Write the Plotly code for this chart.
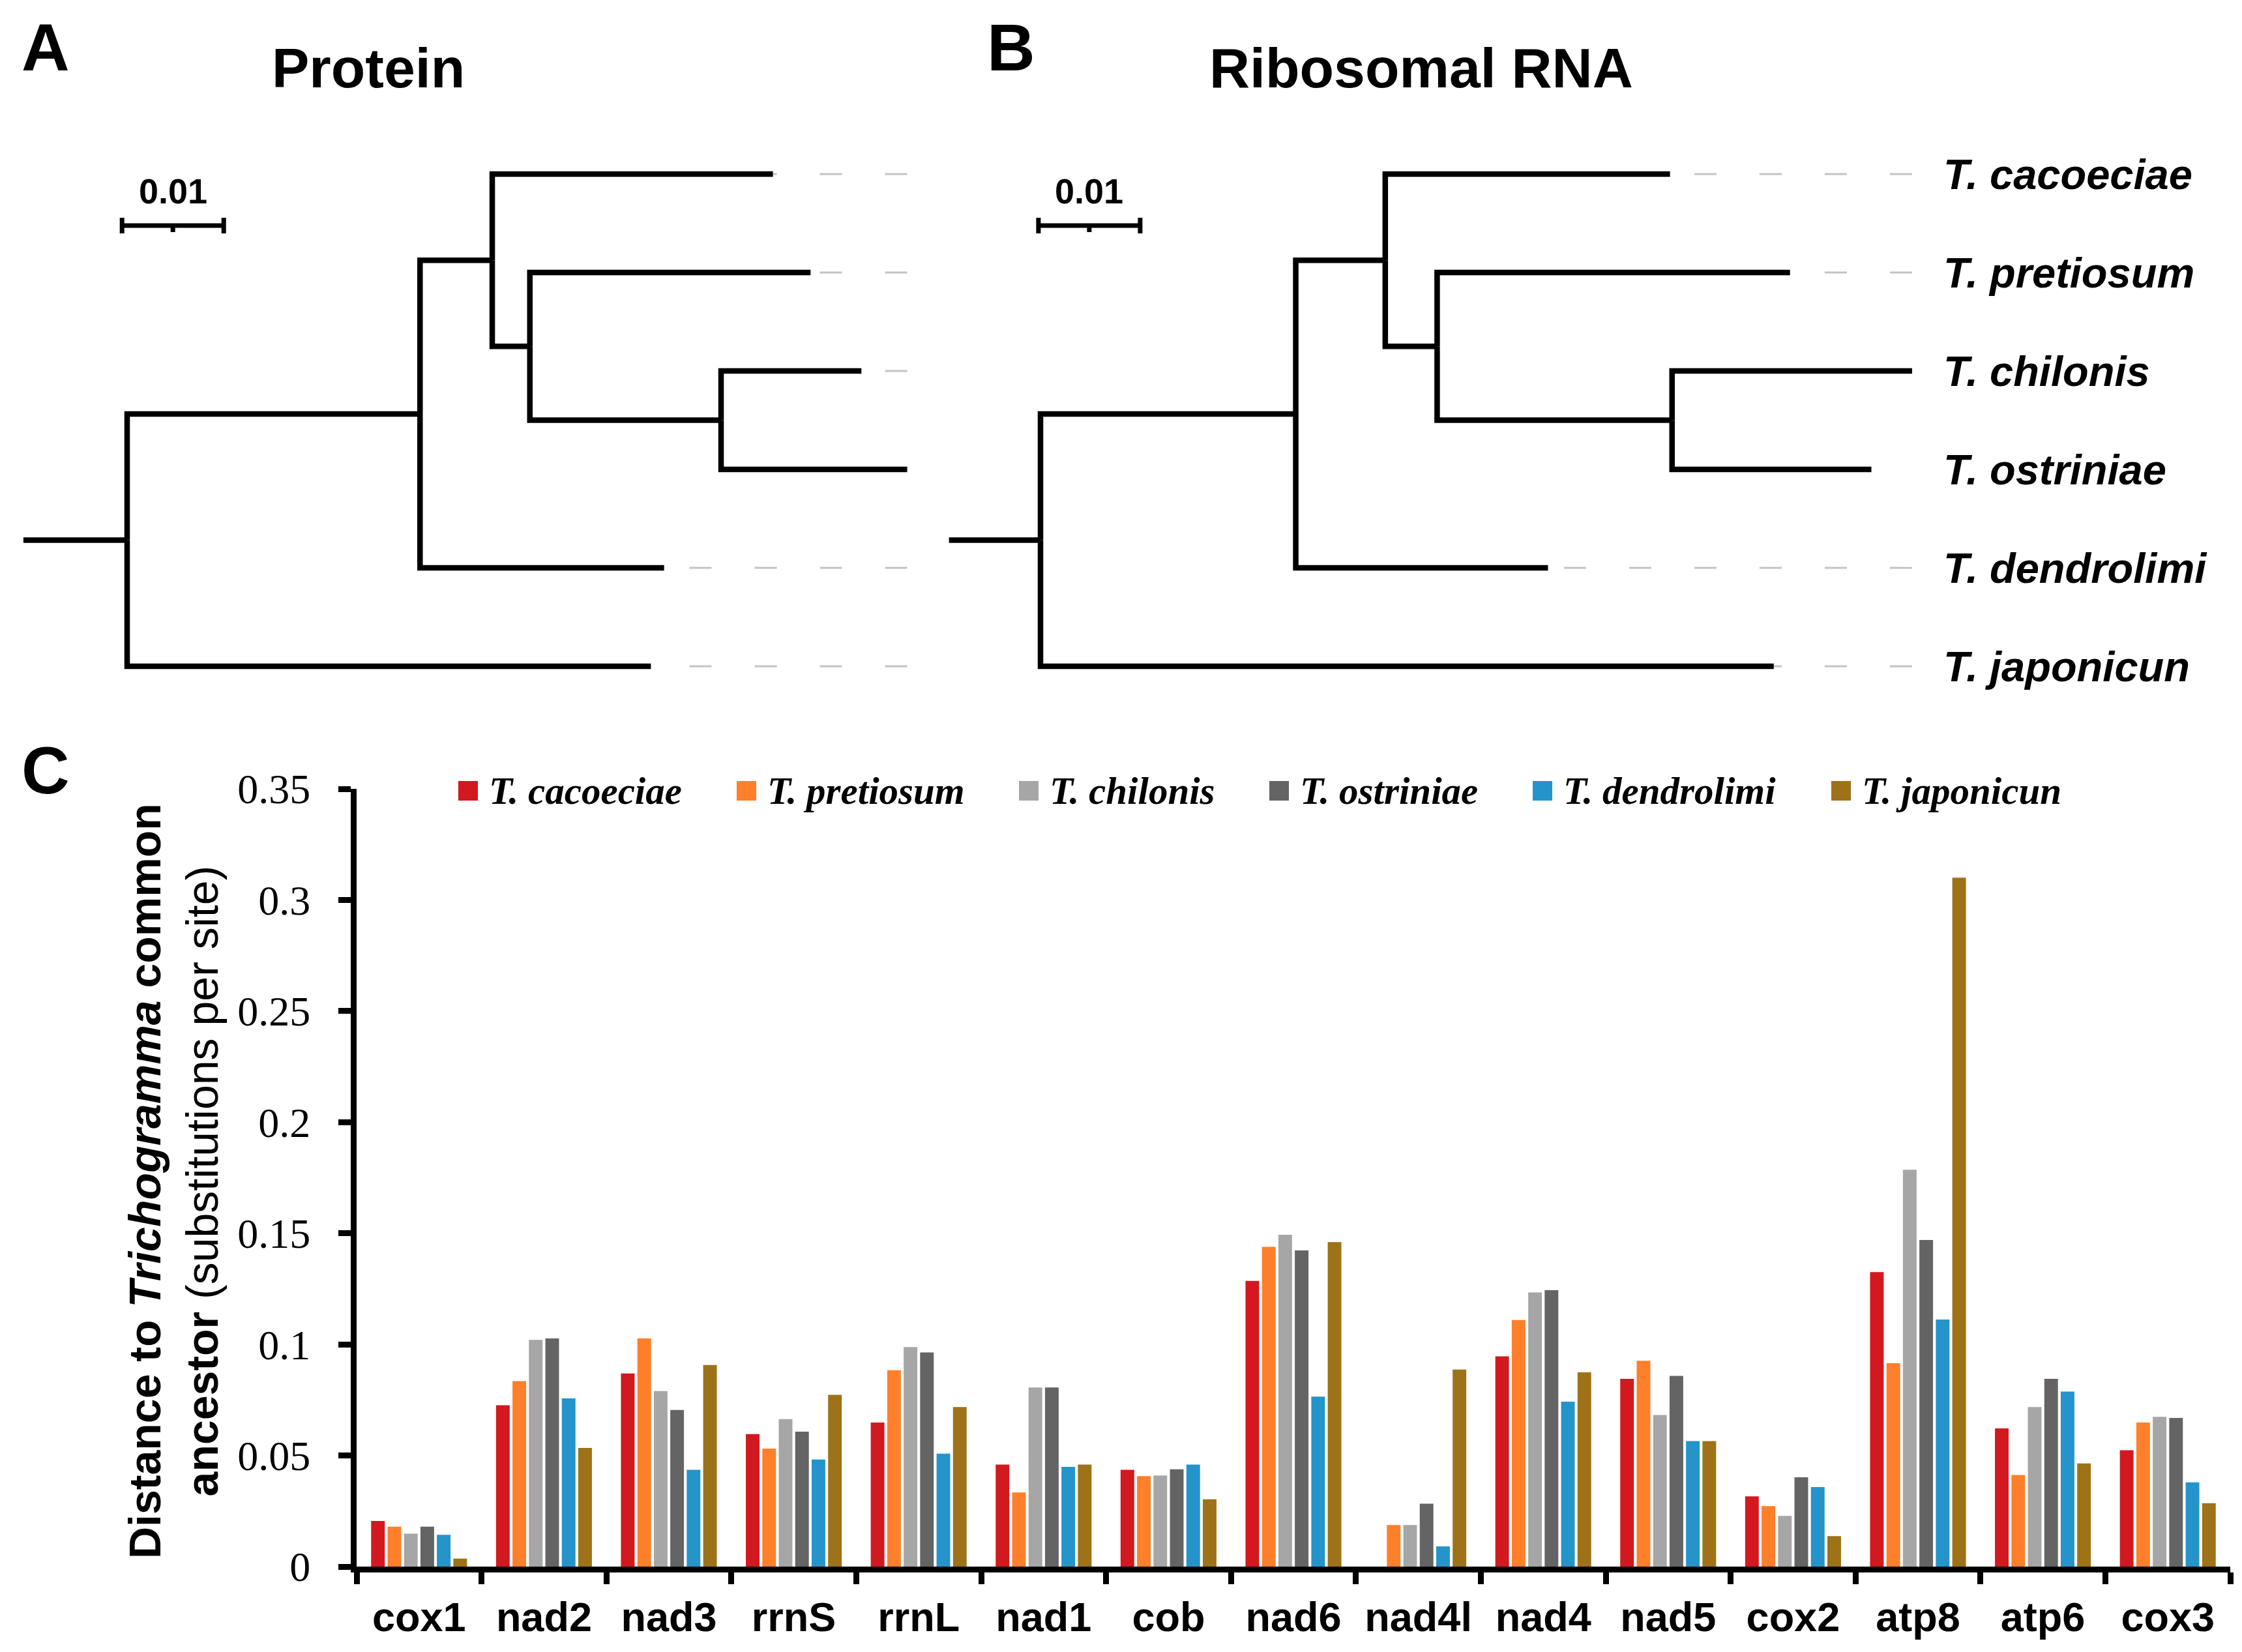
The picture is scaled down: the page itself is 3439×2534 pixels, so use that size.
import plotly.graph_objects as go

W, H = 3439, 2534
OFF = 8  # page body margin of the rendered html


def px(x):
    return (x - OFF) / W


def py(y):
    return 1 - (y - OFF) / H


# ---------------- data ----------------
genes = ["cox1", "nad2", "nad3", "rrnS", "rrnL", "nad1", "cob", "nad6", "nad4l",
         "nad4", "nad5", "cox2", "atp8", "atp6", "cox3"]
species = ["T. cacoeciae", "T. pretiosum", "T. chilonis", "T. ostriniae",
           "T. dendrolimi", "T. japonicun"]
colors = ["#D2191F", "#FF7F2A", "#A6A6A6", "#646464", "#2494CB", "#9E7218"]

cacoeciae = [0.0205, 0.0726, 0.0869, 0.0596, 0.0648, 0.0459, 0.0436, 0.1286, 0.0,
             0.0946, 0.0845, 0.0316, 0.1325, 0.0622, 0.0524]
pretiosum = [0.0180, 0.0835, 0.1027, 0.0531, 0.0884, 0.0334, 0.0407, 0.1439, 0.0187,
             0.1110, 0.0926, 0.0272, 0.0915, 0.0412, 0.0648]
chilonis = [0.0148, 0.1020, 0.0790, 0.0664, 0.0988, 0.0806, 0.0410, 0.1493, 0.0187,
            0.1234, 0.0682, 0.0228, 0.1786, 0.0718, 0.0674]
ostriniae = [0.0180, 0.1027, 0.0705, 0.0607, 0.0964, 0.0806, 0.0438, 0.1423, 0.0283,
             0.1244, 0.0858, 0.0402, 0.1470, 0.0845, 0.0669]
dendrolimi = [0.0143, 0.0757, 0.0436, 0.0482, 0.0508, 0.0449, 0.0459, 0.0765, 0.0091,
              0.0742, 0.0565, 0.0358, 0.1112, 0.0788, 0.0379]
japonicun = [0.0036, 0.0534, 0.0907, 0.0773, 0.0718, 0.0459, 0.0303, 0.1460, 0.0887,
             0.0874, 0.0565, 0.0137, 0.3100, 0.0464, 0.0285]
series = [cacoeciae, pretiosum, chilonis, ostriniae, dendrolimi, japonicun]

y_ticks = [0, 0.05, 0.1, 0.15, 0.2, 0.25, 0.3, 0.35]

protein_newick = ("(((T. cacoeciae:0.0276,(T. pretiosum:0.0276,(T. chilonis:0.0138,"
                  "T. ostriniae:0.0183):0.0188):0.0037):0.0071,T. dendrolimi:0.0240):0.0288,"
                  "T. japonicun:0.0515):0.0102;")
rrna_newick = ("(((T. cacoeciae:0.0280,(T. pretiosum:0.0347,(T. chilonis:0.0236,"
               "T. ostriniae:0.0196):0.0231):0.0051):0.0088,T. dendrolimi:0.0248):0.0251,"
               "T. japonicun:0.0721):0.0090;")
scale_bar_length = 0.01


# ---------------- tree helpers ----------------
def parse_newick(s):
    pos = 0

    def node():
        nonlocal pos
        children = []
        if s[pos] == "(":
            pos += 1
            while True:
                children.append(node())
                if s[pos] == ",":
                    pos += 1
                    continue
                pos += 1  # ')'
                break
        start = pos
        while s[pos] not in ",);":
            pos += 1
        label = s[start:pos]
        length = 0.0
        name = label
        if ":" in label:
            name, l = label.rsplit(":", 1)
            length = float(l)
        return {"name": name.strip(), "len": length, "children": children}

    return node()


def layout_tree(root):
    tips = []

    def rec(n, x0):
        n["x"] = x0 + n["len"]
        if not n["children"]:
            n["y"] = len(tips)
            tips.append(n)
        else:
            for c in n["children"]:
                rec(c, n["x"])
            n["y"] = (n["children"][0]["y"] + n["children"][-1]["y"]) / 2

    rec(root, -root["len"])
    return tips


def tree_paths(root):
    xs, ys = [root["x"] - root["len"], root["x"], None], [root["y"], root["y"], None]

    def rec(n):
        for c in n["children"]:
            xs.extend([c["x"], n["x"], n["x"], None])
            ys.extend([c["y"], c["y"], n["y"], None])
            rec(c)

    rec(root)
    return xs, ys


fig = go.Figure()

# ---------------- bar chart (C) ----------------
for name, vals, col in zip(species, series, colors):
    fig.add_trace(go.Bar(x=genes, y=vals, name=name, marker_color=col,
                         marker_line_width=0, xaxis="x", yaxis="y", showlegend=False))

# ---------------- trees (A, B) ----------------
S = 15600.0  # px per substitution unit
TIP0, TIPSTEP = 267.0, 151.0
TOP = OFF          # pixel row of the top of the tree axes domain
BOT = 1100.0       # pixel row of the bottom of the tree axes domain
annotations = []
trees = [(protein_newick, "x2", "y2", 195.0, (OFF, 1720), False, -0.0005),
         (rrna_newick, "x3", "y3", 1596.0, (1440, W + OFF), True, -0.0002)]
for nwk, xa, ya, root_px, (d0, d1), labels, sb_x0 in trees:
    root = parse_newick(nwk)
    tips = layout_tree(root)
    xmax = max(t["x"] for t in tips)
    # dashed guide lines
    for t in tips:
        if t["x"] < xmax - 0.0042:
            fig.add_trace(go.Scatter(x=[xmax, t["x"]], y=[t["y"], t["y"]], mode="lines",
                                     line=dict(color="#C4C4C4", width=3, dash="34px,66px"),
                                     xaxis=xa, yaxis=ya, showlegend=False, hoverinfo="skip"))
    bx, by = tree_paths(root)
    fig.add_trace(go.Scatter(x=bx, y=by, mode="lines", line=dict(color="black", width=8.5),
                             xaxis=xa, yaxis=ya, showlegend=False, hoverinfo="skip"))
    # scale bar
    sb_y = (346 - TIP0) / TIPSTEP
    tk = 12 / TIPSTEP
    x1 = sb_x0 + scale_bar_length
    xm = sb_x0 + scale_bar_length / 2
    fig.add_trace(go.Scatter(
        x=[sb_x0, x1, None, sb_x0, sb_x0, None, x1, x1, None, xm, xm],
        y=[sb_y, sb_y, None, sb_y - tk, sb_y + tk, None, sb_y - tk, sb_y + tk, None, sb_y, sb_y + 10 / TIPSTEP],
        mode="lines", line=dict(color="black", width=7), xaxis=xa, yaxis=ya,
        showlegend=False, hoverinfo="skip"))
    annotations.append(dict(x=xm, y=(293 - TIP0) / TIPSTEP, xref=xa, yref=ya, text="<b>0.01</b>",
                            showarrow=False, xanchor="center", yanchor="middle",
                            font=dict(family="Liberation Sans", size=54, color="black")))
    if labels:
        for t in tips:
            annotations.append(dict(x=xmax + 46 / S, y=t["y"], xref=xa, yref=ya,
                                    text="<b><i>" + t["name"] + "</i></b>", showarrow=False,
                                    xanchor="left", yanchor="middle",
                                    font=dict(family="Liberation Sans", size=65, color="black")))
    yr = [(BOT - TIP0) / TIPSTEP, (TOP - TIP0) / TIPSTEP]
    xr = [(d0 - root_px) / S, (d1 - root_px) / S]
    fig.layout[xa.replace("x", "xaxis")] = dict(domain=[px(d0), px(d1)], range=xr, visible=False,
                                                 anchor=ya, fixedrange=True, automargin=False)
    fig.layout[ya.replace("y", "yaxis")] = dict(domain=[py(BOT), py(TOP)], range=yr, visible=False,
                                                 anchor=xa, fixedrange=True, automargin=False)

# ---------------- text ----------------
for txt, x, y in [("A", 70, 73), ("B", 1551, 73), ("C", 70, 1182)]:
    annotations.append(dict(x=px(x), y=py(y), xref="paper", yref="paper", text="<b>" + txt + "</b>",
                            showarrow=False, xanchor="center", yanchor="middle", borderpad=0,
                            font=dict(family="Liberation Sans", size=102, color="black")))
for txt, x in [("Protein", 565), ("Ribosomal RNA", 2180)]:
    annotations.append(dict(x=px(x), y=py(104), xref="paper", yref="paper", text="<b>" + txt + "</b>",
                            showarrow=False, xanchor="center", yanchor="middle",
                            font=dict(family="Liberation Sans", size=86, color="black")))

annotations.append(dict(
    x=px(266), y=py(1812), xref="paper", yref="paper", textangle=-90,
    text="<b>Distance to <i>Trichogramma</i> common</b><br><b>ancestor</b> (substitutions per site)",
    showarrow=False, xanchor="center", yanchor="middle",
    font=dict(family="Liberation Sans", size=68, color="black")))

# legend (manual, large squares)
legend_cx = [718, 1145, 1578, 1962, 2366, 2824]
shapes = []
for name, col, cx in zip(species, colors, legend_cx):
    shapes.append(dict(type="rect", xref="paper", yref="paper", x0=px(cx - 15), x1=px(cx + 15),
                       y0=py(1228), y1=py(1198), fillcolor=col, line=dict(width=0)))
    annotations.append(dict(x=px(cx + 30), y=py(1213), xref="paper", yref="paper",
                            text="<b><i>" + name + "</i></b>", showarrow=False,
                            xanchor="left", yanchor="middle",
                            font=dict(family="Liberation Serif", size=59, color="black")))

fig.update_layout(
    template="none",
    width=W, height=H, autosize=False,
    margin=dict(l=0, r=0, t=0, b=0, pad=0),
    paper_bgcolor="white", plot_bgcolor="white",
    barmode="group", bargap=0.21, bargroupgap=0.17,
    annotations=annotations, shapes=shapes,
    xaxis=dict(domain=[px(547), px(3421)], type="category", categoryorder="array",
               categoryarray=genes, tickson="boundaries", ticks="outside", ticklen=18,
               tickwidth=9, tickcolor="black", showline=True, linewidth=9, linecolor="black",
               showgrid=False, zeroline=False, anchor="y", ticklabelstandoff=14,
               automargin=False,
               tickfont=dict(family="Liberation Sans", size=63, color="black", weight="bold")),
    yaxis=dict(domain=[py(2403), py(1210)], range=[0, 0.35], tickvals=y_ticks,
               ticktext=[("%g" % v) for v in y_ticks], ticks="outside", ticklen=19, tickwidth=9,
               tickcolor="black", showline=True, linewidth=9, linecolor="black",
               showgrid=False, zeroline=False, anchor="x", ticklabelstandoff=30,
               automargin=False,
               tickfont=dict(family="Liberation Serif", size=64, color="black")),
)

fig.write_html("out.html")
